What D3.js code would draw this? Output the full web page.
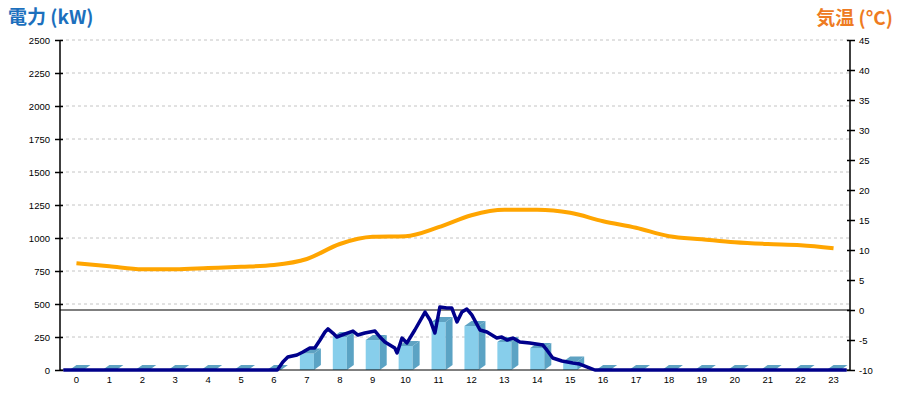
<!DOCTYPE html>
<html><head><meta charset="utf-8">
<script src="https://cdn.jsdelivr.net/npm/d3@7"></script>
<style>
html,body{margin:0;padding:0;background:#fff;}
svg text{font-family:"Liberation Sans",Arial,sans-serif;}
</style></head>
<body><svg id="c" width="900" height="400"></svg>
<script>
const hours = d3.range(0,24);
const kwTicks = [0,250,500,750,1000,1250,1500,1750,2000,2250,2500];
const tempTicks = [-10,-5,0,5,10,15,20,25,30,35,40,45];
// hourly bar values (kW)
const barKw = [0,0,0,0,0,0,0,125,250,227,182,364,333,212,167,65,0,0,0,0,0,0,0,0];
// hourly temperature (°C)
const tempC = [7.8,7.3,6.8,6.8,7.0,7.2,7.5,8.5,11.0,12.2,12.3,13.8,15.8,16.7,16.7,16.2,14.8,13.7,12.3,11.8,11.3,11.0,10.8,10.3];
// detailed power series: time (hour) and kW
const kwTime = [-0.4,6.1,6.27,6.42,6.70,6.88,7.09,7.24,7.40,7.55,7.64,7.79,7.91,8.16,8.40,8.55,8.76,9.07,9.22,9.37,9.67,9.74,9.89,10.04,10.28,10.59,10.74,10.89,11.04,11.25,11.40,11.56,11.71,11.86,12.01,12.26,12.47,12.77,12.92,13.08,13.26,13.47,13.77,14.17,14.29,14.47,14.75,15.08,15.29,15.60,15.75,23.4];
const kwVal  = [0,0,61,98,114,136,167,167,227,288,311,280,250,273,295,265,280,295,250,212,167,129,242,205,303,439,379,280,477,470,470,364,439,462,417,303,288,242,250,227,242,212,205,189,152,91,68,53,45,15,0,0];

const svg = d3.select("#c");
const L=60,R=850,T=40,B=370;
const x = d3.scaleBand().domain(hours).range([L,R]);
const cx = h => x(h)+x.bandwidth()/2;
const xt = d3.scaleLinear().domain([0,23]).range([cx(0),cx(23)]);
const yL = d3.scaleLinear().domain([0,2500]).range([B,T]);
const yR = d3.scaleLinear().domain([-10,45]).range([B,T]);

// grid
svg.append("g").selectAll("line").data(kwTicks.filter(d=>d>0)).join("line")
  .attr("x1",L).attr("x2",R).attr("y1",d=>yL(d)).attr("y2",d=>yL(d))
  .attr("stroke","#c4c4c4").attr("stroke-width",1).attr("stroke-dasharray","3,3");

// bars 3D
const hw=7, dx=7, dy=5;
const bars = svg.append("g");
hours.forEach(h=>{
  const c=cx(h), yv=yL(barKw[h]), y0=yL(0);
  if(barKw[h]>0){
    bars.append("rect").attr("x",c-hw).attr("y",yv).attr("width",hw*2).attr("height",y0-yv).attr("fill","#87ceeb");
    bars.append("polygon").attr("points",[[c+hw,y0],[c+hw,yv],[c+hw+dx,yv-dy],[c+hw+dx,y0-dy]].join(" ")).attr("fill","#5ba3c4");
  }
  bars.append("polygon").attr("points",[[c-hw,yv],[c+hw,yv],[c+hw+dx,yv-dy],[c-hw+dx,yv-dy]].join(" ")).attr("fill","#5ea2c2");
});

// zero °C line and baseline
svg.append("line").attr("x1",L).attr("x2",R).attr("y1",yR(0)).attr("y2",yR(0)).attr("stroke","#000").attr("stroke-width",1);
svg.append("line").attr("x1",L).attr("x2",R).attr("y1",B).attr("y2",B).attr("stroke","#000").attr("stroke-width",1);

// temperature line
svg.append("path").datum(hours).attr("fill","none").attr("stroke","#ffa500").attr("stroke-width",4)
  .attr("d",d3.line().x(h=>cx(h)).y(h=>yR(tempC[h])).curve(d3.curveMonotoneX));

// power line
svg.append("path").datum(d3.range(kwTime.length)).attr("fill","none").attr("stroke","#00008b").attr("stroke-width",3.5)
  .attr("stroke-linejoin","round")
  .attr("d",d3.line().x(i=>xt(kwTime[i])).y(i=>yL(kwVal[i])));

// axes
const ax = svg.append("g").attr("transform",`translate(${L},0)`).call(d3.axisLeft(yL).tickValues(kwTicks).tickSize(5).tickPadding(5).tickFormat(d3.format("d")));
ax.selectAll(".tick line").attr("x1",-5).attr("x2",3).attr("stroke-width",1.5);
ax.select(".domain").attr("d",`M0,${T}V${B}`).attr("stroke-width",1.5);
ax.selectAll("text").attr("font-size","9.5px").attr("fill","#000").attr("x",-10).attr("font-family","Liberation Sans, Arial");

const ar = svg.append("g").attr("transform",`translate(${R},0)`).call(d3.axisRight(yR).tickValues(tempTicks).tickSize(5).tickPadding(5).tickFormat(d=>d<0?"-"+Math.abs(d):d));
ar.selectAll(".tick line").attr("x1",-3).attr("x2",5).attr("stroke-width",1.5);
ar.select(".domain").attr("d",`M0,${T}V${B}`).attr("stroke-width",1.5);
ar.selectAll("text").attr("font-size","9.5px").attr("fill","#000").attr("x",9).attr("font-family","Liberation Sans, Arial");

svg.append("g").selectAll("text").data(hours).join("text")
  .attr("x",h=>cx(h)).attr("y",383).attr("text-anchor","middle")
  .attr("font-size","9.5px").text(h=>h);

// titles
svg.append("text").attr("x",8).attr("y",24).attr("font-size","19px").attr("font-weight","bold")
  .attr("fill","#1c70bd").style("font-family","'Noto Sans CJK JP','Noto Sans',sans-serif").text("電力 (kW)");
svg.append("text").attr("x",893).attr("y",25).attr("text-anchor","end").attr("font-size","19px").attr("font-weight","bold")
  .attr("fill","#ee7b22").style("font-family","'Noto Sans CJK JP','Noto Sans',sans-serif").text("気温 (°C)");
</script></body></html>
